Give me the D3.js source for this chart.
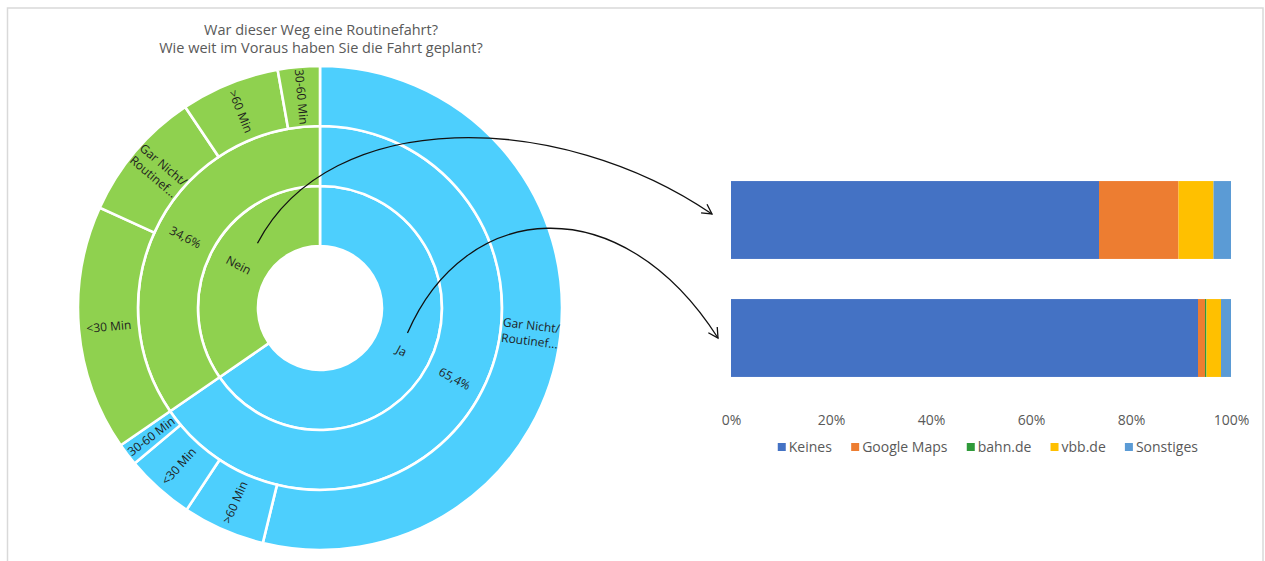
<!DOCTYPE html>
<html><head><meta charset="utf-8">
<script src="https://cdn.jsdelivr.net/npm/d3@7"></script>
<style>
html,body{margin:0;padding:0;background:#fff;}
svg{display:block;font-family:"Open Sans",sans-serif;}
</style></head>
<body>
<svg id="chart" width="1265" height="561"></svg>
<script>
// ---------- data ----------
const titleLines = ["War dieser Weg eine Routinefahrt?", "Wie weit im Voraus haben Sie die Fahrt geplant?"];

// Sunburst: inner ring = Routinefahrt, outer ring = planning horizon
const routineLabels = ["Ja", "Nein"];
const jaPlanLabels = ["Gar Nicht/Routinef...", ">60 Min", "<30 Min", "30-60 Min"];
const jaPlanValues = [53.8, 5.5, 4.6, 1.5];
const neinPlanLabels = ["<30 Min", "Gar Nicht/Routinef...", ">60 Min", "30-60 Min"];
const neinPlanValues = [16.4, 8.8, 6.6, 2.8];
const routineColors = ["#4DCFFD", "#8FD14F"];

// Stacked 100% bars
const barCategories = ["Nein", "Ja"];
const sources = ["Keines", "Google Maps", "bahn.de", "vbb.de", "Sonstiges"];
const neinSourceValues = [73.6, 15.9, 0, 7.0, 3.5];
const jaSourceValues = [93.4, 1.4, 0.3, 2.9, 2.0];
const sourceColors = ["#4472C4", "#ED7D31", "#2F9A3A", "#FFC000", "#5B9BD5"];
const tickValues = [0, 20, 40, 60, 80, 100];
const tickLabels = ["0%", "20%", "40%", "60%", "80%", "100%"];

// ---------- setup ----------
const svg = d3.select("#chart");
svg.append("rect").attr("x", 0).attr("y", 0).attr("width", 1265).attr("height", 561).attr("fill", "#fff");
svg.append("rect").attr("x", 7.5).attr("y", 8).attr("width", 1255.5).attr("height", 620)
  .attr("fill", "none").attr("stroke", "#d9d9d9").attr("stroke-width", 1.5);

const pctFmt = d3.formatLocale({decimal: ",", thousands: ".", grouping: [3], currency: ["", "€"]}).format(".1f");

// Title
svg.append("g").selectAll("text").data(titleLines).join("text")
  .attr("x", 321).attr("y", (d, i) => 35 + i * 18)
  .attr("text-anchor", "middle").attr("fill", "#595959")
  .style("font-size", "14.5px").text(d => d);

// ---------- sunburst ----------
const cx = 320, cy = 308;
const planSets = [[jaPlanLabels, jaPlanValues], [neinPlanLabels, neinPlanValues]];
const rootData = {name: "root", children: routineLabels.map((lab, i) => {
  const [labels, vals] = planSets[i];
  const total = d3.sum(vals);
  return {name: lab, idx: i, children: [{name: pctFmt(total) + "%", idx: i,
    children: labels.map((l, j) => ({name: l, idx: i, value: vals[j]}))}]};
})};
const root = d3.hierarchy(rootData).sum(d => d.value || 0);
d3.partition().size([2 * Math.PI, 4])(root);
const rScale = d3.scaleLinear().domain([1, 4]).range([62, 242]);
const arc = d3.arc()
  .startAngle(d => d.x0).endAngle(d => d.x1)
  .innerRadius(d => rScale(d.y0)).outerRadius(d => rScale(d.y1));

const sb = svg.append("g").attr("transform", `translate(${cx},${cy})`);
const nodes = root.descendants().filter(d => d.depth > 0);
sb.selectAll("path").data(nodes).join("path")
  .attr("d", arc)
  .attr("fill", d => routineColors[d.data.idx])
  .attr("stroke", "#fff").attr("stroke-width", 2.6);

const lbl = sb.selectAll("g.lbl").data(nodes).join("g").attr("class", "lbl")
  .attr("transform", d => {
    const a = (d.x0 + d.x1) / 2;
    const r = (rScale(d.y0) + rScale(d.y1)) / 2;
    const deg = a * 180 / Math.PI;
    const rot = deg < 180 ? deg - 90 : deg - 270;
    return `translate(${r * Math.sin(a)},${-r * Math.cos(a)}) rotate(${rot})`;
  });
lbl.each(function(d) {
  const parts = d.data.name.includes("/") ? [d.data.name.split("/")[0] + "/", d.data.name.split("/")[1]] : [d.data.name];
  const t = d3.select(this).append("text")
    .attr("text-anchor", "middle").attr("fill", "#1e1e1e")
    .style("font-size", "12px");
  parts.forEach((p, i) => {
    t.append("tspan").attr("x", 0)
      .attr("y", (i - (parts.length - 1) / 2) * 15.5)
      .attr("dy", "0.35em").text(p);
  });
});

// ---------- stacked bars ----------
const x = d3.scaleLinear().domain([0, 100]).range([731, 1231]);
const y = d3.scaleBand().domain(barCategories).range([161, 397]).paddingInner(0.34).paddingOuter(0.17);
const barValues = {"Nein": neinSourceValues, "Ja": jaSourceValues};
const table = barCategories.map(c => {
  const o = {cat: c};
  sources.forEach((s, i) => o[s] = barValues[c][i]);
  return o;
});
const stack = d3.stack().keys(sources)(table);
svg.append("g").selectAll("g").data(stack).join("g")
  .attr("fill", (d, i) => sourceColors[i])
  .selectAll("rect").data(d => d).join("rect")
  .attr("x", d => x(d[0])).attr("width", d => x(d[1]) - x(d[0]))
  .attr("y", d => y(d.data.cat)).attr("height", y.bandwidth());

const axis = svg.append("g").attr("transform", "translate(0,412)")
  .call(d3.axisBottom(x).tickValues(tickValues).tickFormat((d, i) => tickLabels[i]).tickSize(0));
axis.select(".domain").remove();
axis.selectAll("text").attr("fill", "#595959").style("font-size", "14px")
  .style("font-family", "'Open Sans',sans-serif");

// Legend
const leg = svg.append("g");
const items = leg.selectAll("g").data(sources).join("g");
items.append("rect").attr("width", 8).attr("height", 8).attr("y", -4).attr("fill", (d, i) => sourceColors[i]);
items.append("text").attr("x", 11).attr("dy", "0.35em").attr("fill", "#595959")
  .style("font-size", "14px").text(d => d);
let widths = [];
items.each(function() { widths.push(this.getBBox().width); });
const gap = 19;
const totalW = d3.sum(widths) + gap * (widths.length - 1);
let cur = 988 - totalW / 2;
items.attr("transform", (d, i) => { const t = `translate(${cur},447)`; cur += widths[i] + gap; return t; });

// ---------- arrows ----------
function polar(r, deg) { const a = deg * Math.PI / 180; return [cx + r * Math.sin(a), cy - r * Math.cos(a)]; }
const arrows = [
  {start: polar(90, 316), c1: [330, 105], c2: [560, 110], end: [x(0) - 19, y("Nein") + y.bandwidth() / 2 - 6]},
  {start: polar(91, 106), c1: [465, 200], c2: [620, 185], end: [x(0) - 13, y("Ja") + y.bandwidth() / 2 + 0]}
];
const ag = svg.append("g").attr("fill", "none").attr("stroke", "#111").attr("stroke-width", 1.3);
arrows.forEach(a => {
  const p = d3.path();
  p.moveTo(...a.start);
  p.bezierCurveTo(...a.c1, ...a.c2, ...a.end);
  ag.append("path").attr("d", p.toString());
  const ang = Math.atan2(a.end[1] - a.c2[1], a.end[0] - a.c2[0]);
  const L = 11, spread = 0.5;
  const h = d3.path();
  h.moveTo(a.end[0] - L * Math.cos(ang - spread), a.end[1] - L * Math.sin(ang - spread));
  h.lineTo(...a.end);
  h.lineTo(a.end[0] - L * Math.cos(ang + spread), a.end[1] - L * Math.sin(ang + spread));
  ag.append("path").attr("d", h.toString());
});
</script>
</body></html>
